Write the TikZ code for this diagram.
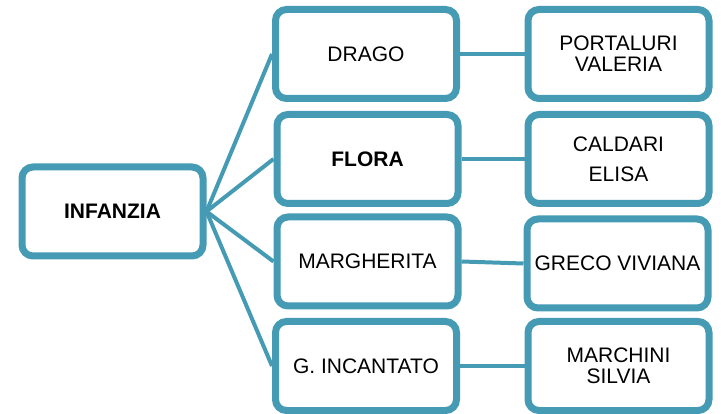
\documentclass[tikz,border=0pt]{standalone}
\usepackage{fontspec}
\setmainfont{Liberation Sans}
\usetikzlibrary{backgrounds,shadows}
\definecolor{teal1}{RGB}{70,155,180}
\begin{document}
\begin{tikzpicture}[x=1pt,y=-1pt,
  box/.style={draw=teal1, line width=7pt, fill=white, rounded corners=11pt,
    minimum width=181pt, minimum height=89pt, inner sep=0pt, align=center,
    font=\fontsize{21}{21}\selectfont,
    drop shadow={shadow xshift=1pt, shadow yshift=-2pt, opacity=0.25, fill=black}},
  conn/.style={draw=teal1, line width=4pt}]
\useasboundingbox (0,0) rectangle (721,414);
\node[box, font=\fontsize{21}{21}\selectfont\bfseries] (inf) at (112.5,211.5) {INFANZIA};
\node[box] (drago) at (366,54) {DRAGO};
\node[box, font=\fontsize{21}{21}\selectfont\bfseries] (flora) at (367.5,159) {FLORA};
\node[box] (marg) at (367.5,261.5) {MARGHERITA};
\node[box] (inc) at (366,366) {G. INCANTATO};
\node[box] (port) at (618.5,54) {PORTALURI\\VALERIA};
\node[box] (cald) at (618.5,159) {CALDARI\\[9pt]ELISA};
\node[box] (greco) at (617.5,263.5) {GRECO VIVIANA};
\node[box] (marc) at (618.5,366) {MARCHINI\\SILVIA};
\begin{scope}[on background layer]
  \draw[conn] (inf.east) -- (drago.west);
  \draw[conn] (inf.east) -- (flora.west);
  \draw[conn] (inf.east) -- (marg.west);
  \draw[conn] (inf.east) -- (inc.west);
  \draw[conn] (drago.east) -- (port.west);
  \draw[conn] (flora.east) -- (cald.west);
  \draw[conn] (marg.east) -- (greco.west);
  \draw[conn] (inc.east) -- (marc.west);
\end{scope}
\end{tikzpicture}
\end{document}
